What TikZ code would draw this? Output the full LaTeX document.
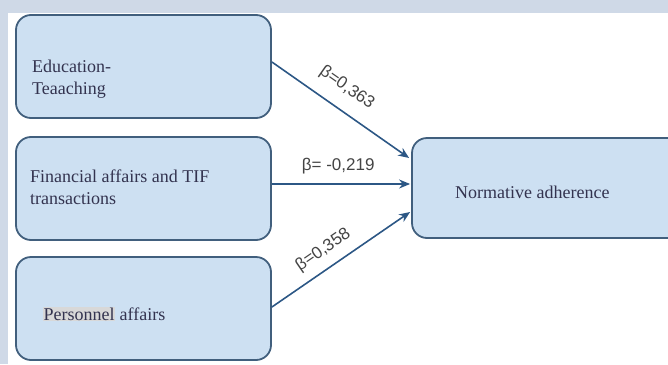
\documentclass[tikz,border=0pt]{standalone}
\usepackage{fontspec}
\setmainfont{Liberation Serif}
\newfontfamily\labfont{Liberation Sans}
\usetikzlibrary{calc,arrows.meta}
\definecolor{bandcol}{HTML}{CFD9E7}
\definecolor{boxfill}{HTML}{CDE0F2}
\definecolor{boxline}{HTML}{415F7D}
\definecolor{arrcol}{HTML}{2C5785}
\definecolor{labcol}{HTML}{444444}
\definecolor{txtcol}{HTML}{33334F}
\definecolor{hlcol}{HTML}{D8D8D8}
\tikzset{
  boxnode/.style={draw=boxline, line width=1.8pt, fill=boxfill, rounded corners=15pt,
    minimum width=255pt, minimum height=103pt, inner sep=0pt},
  boxtext/.style={font=\fontsize{18}{22}\selectfont, text=txtcol, align=left, inner sep=0pt, anchor=west},
  conn/.style={draw=arrcol, line width=1.6pt, -{Stealth[length=11pt,width=9pt]}},
  lab/.style={font=\labfont\fontsize{17}{20}\selectfont, text=labcol, inner sep=0pt, sloped}
}
\begin{document}
\begin{tikzpicture}[x=1pt,y=-1pt]
\useasboundingbox (0,0) rectangle (668,364);
\clip (0,0) rectangle (668,364);
% background bands
\fill[bandcol] (0,0) rectangle (668,13);
\fill[bandcol] (0,13) rectangle (8,364);
% boxes
\node[boxnode] (b1) at (143.5,66.5) {};
\node[boxnode] (b2) at (143.5,188.5) {};
\node[boxnode] (b3) at (143.5,308.5) {};
\node[boxnode, minimum width=290pt, minimum height=100pt] (out) at (557,188) {};
% texts
\node[boxtext] (t1) at (32,79) {Education-\\Teaaching};
\node[boxtext] (t2) at (30,187) {Financial affairs and TIF\\transactions};
\node[boxtext] (t3) at (43,314) {{\setlength{\fboxsep}{0.5pt}\colorbox{hlcol}{Personnel}} affairs};
\node[boxtext] (t4) at (455,192) {Normative adherence};
% connectors
\coordinate (s1) at ($(b1.east)+(0,-4.5)$);
\coordinate (s2) at ($(b2.east)+(0,-4.5)$);
\coordinate (s3) at ($(b3.east)+(0,-1.5)$);
\coordinate (e1) at ($(out.west)+(-2,-30)$);
\coordinate (e2) at ($(out.west)+(-1,-4)$);
\coordinate (e3) at ($(out.west)+(-1,24)$);
\draw[conn] (s1) -- node[lab, pos=0.455, above=13pt] {β=0,363} (e1);
\draw[conn] (s2) -- node[lab, pos=0.48, above=9pt] {β= -0,219} (e2);
\draw[conn] (s3) -- node[lab, pos=0.444, above=9pt] {β=0,358} (e3);
\end{tikzpicture}
\end{document}
